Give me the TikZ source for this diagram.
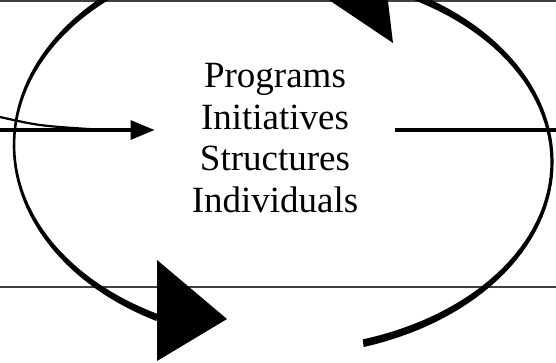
\documentclass[tikz,border=0pt]{standalone}
\usepackage{fontspec}
\setmainfont{Liberation Serif}
\usetikzlibrary{arrows.meta}
\definecolor{ink}{RGB}{0,0,0}
\definecolor{rulegrey}{RGB}{64,64,64}

\begin{document}
\begin{tikzpicture}[x=1pt, y=-1pt,
    rulel/.style={draw=rulegrey, line width=1.8pt},
    feed/.style={draw=ink, line width=3.2pt, -{Triangle[length=24pt, width=19pt]}},
    lead/.style={draw=ink, line width=2.2pt},
    outline/.style={draw=ink, line width=3.2pt},
    cyc/.style={fill=ink},
    head/.style={fill=ink},
    lbl/.style={font=\fontsize{37}{41.7}\selectfont, align=center,
                inner xsep=37pt, inner ysep=0pt}
  ]
  \useasboundingbox (0,0) rectangle (556,362);
  \clip (0,0) rectangle (556,362);

  % ---------------- rules ----------------
  \draw[rulel] (0,1) -- (556,1);
  \draw[rulel] (0,287) -- (556,287);

  % ---------------- cycle ----------------
  % left half, thick at the ends and thin at the side
  \fill[cyc] plot[domain=235:117.8, samples=60, variable=\t]
      ({282+269.3*cos(\t)}, {145+199*sin(\t)})
    -- plot[domain=117.8:235, samples=60, variable=\t]
      ({282+266.7*cos(\t)}, {145+191*sin(\t)}) -- cycle;
  \fill[head] (157,260) -- (157,361) -- (227,319) -- cycle;
  % right half
  \fill[cyc] plot[domain=72.5:-66, samples=60, variable=\t]
      ({282+271.6*cos(\t)}, {162+194*sin(\t)})
    -- plot[domain=-66:72.5, samples=60, variable=\t]
      ({282+268.4*cos(\t)}, {162+186*sin(\t)}) -- cycle;
  \fill[head] (393,43) -- (381,-57) -- (317,-8) -- cycle;

  % ---------------- centre ----------------
  \node[lbl, anchor=north] (box) at (275,63)
    {Programs\\Initiatives\\Structures\\Individuals};
  \coordinate (src) at (0,130);
  \coordinate (src2) at (0,117);
  \coordinate (join) at (105,130);
  \coordinate (sink) at (556,130);
  \draw[feed] (src) -- (src -| box.west);
  \draw[lead] (src2) .. controls (40,126) .. (join);
  \draw[outline] (box.east |- sink) -- (sink);
\end{tikzpicture}
\end{document}
